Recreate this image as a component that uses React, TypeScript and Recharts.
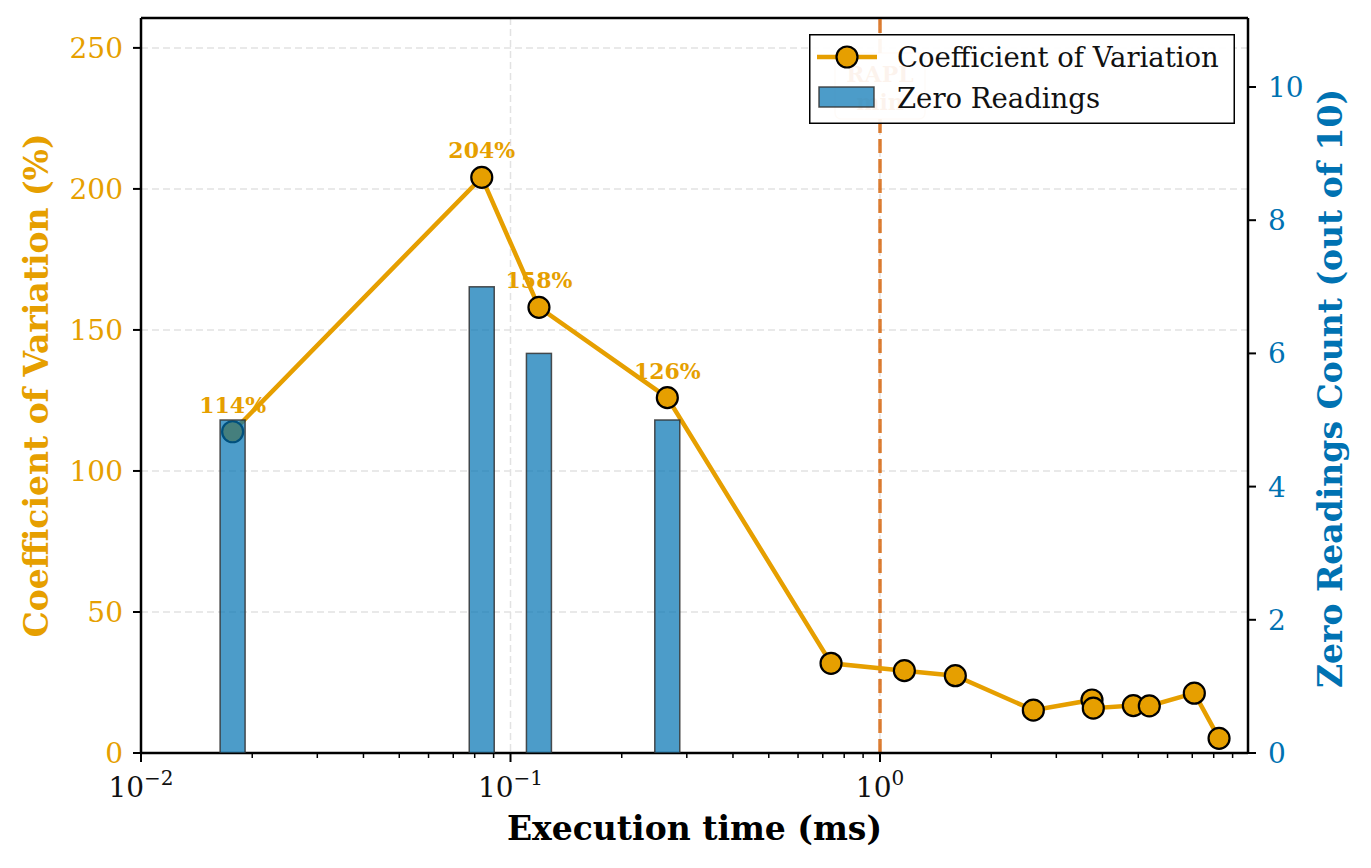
import {
  ComposedChart,
  Line,
  Bar,
  XAxis,
  YAxis,
  CartesianGrid,
  ReferenceLine,
  Legend,
  Label,
} from "recharts";

const FONT = '"DejaVu Serif", serif';
const ORANGE = "#E69F00";
const BLUE = "#0072B2";
const VERMILION = "#D55E00";

// execution time (ms) of each benchmark
const execTimeMs = [
  0.0177, 0.0836, 0.1194, 0.2657, 0.737, 1.164, 1.599, 2.6, 3.747, 3.778, 4.848, 5.356, 7.09, 8.271,
];
// coefficient of variation (%)
const cvPercent = [113.9, 204.1, 158.0, 126.0, 31.8, 29.2, 27.4, 15.2, 18.8, 15.9, 16.8, 16.7, 21.2, 5.2];
// zero readings out of 10 runs (only the shortest kernels have any)
const zeroReadings = [5, 7, 6, 5, null, null, null, null, null, null, null, null, null, null];

const xMajorTicks = [0.01, 0.1, 1];
const xMinorTicks = [
  0.02, 0.03, 0.04, 0.05, 0.06, 0.07, 0.08, 0.09,
  0.2, 0.3, 0.4, 0.5, 0.6, 0.7, 0.8, 0.9,
  2, 3, 4, 5, 6, 7, 8, 9,
];
const cvTicks = [0, 50, 100, 150, 200, 250];
const zeroTicks = [0, 2, 4, 6, 8, 10];
const raplLimitMs = 1;

const X_DOMAIN = [0.01, 9.906];
const CV_MAX = 260.6;
const ZERO_MAX = 11.036;
const BAR_W = 25;

const data = execTimeMs.map((t, i) => ({
  t,
  cv: cvPercent[i],
  zero: zeroReadings[i],
}));

function LogTick(props: any) {
  const { x, y, payload } = props;
  const v = payload.value;
  const major = xMajorTicks.includes(v);
  const exp = Math.round(Math.log10(v));
  return (
    <g>
      <line
        x1={x}
        x2={x}
        y1={y}
        y2={y + (major ? 9 : 5)}
        stroke="#000"
        strokeWidth={major ? 2 : 1.5}
      />
      {major && (
        <text x={x} y={y + 44} textAnchor="middle" fontSize={28} fontFamily={FONT} fill="#111">
          10
          <tspan dy={-12} fontSize={20}>
            {exp < 0 ? "\u2212" + -exp : String(exp)}
          </tspan>
        </text>
      )}
    </g>
  );
}

// bars on a log axis get a tiny band, so keep the centre and draw a fixed width
function WideBar(props: any) {
  const { x, y, width, height } = props;
  if (!height || height <= 0) return null;
  const cx = x + width / 2;
  return (
    <rect
      x={cx - BAR_W / 2}
      y={y}
      width={BAR_W}
      height={height}
      fill={BLUE}
      fillOpacity={0.7}
      stroke="#333"
      strokeOpacity={0.85}
      strokeWidth={1.5}
    />
  );
}

function renderCvLabel(props: any) {
  const { x, y, value } = props;
  if (value == null || value < 100) return null;
  return (
    <text
      x={x}
      y={y - 19}
      textAnchor="middle"
      fontSize={22}
      fontWeight="bold"
      fontFamily={FONT}
      fill={ORANGE}
    >
      {Math.round(value)}%
    </text>
  );
}

function RaplLabel(props: any) {
  const { viewBox } = props;
  const cx = viewBox.x;
  const top = viewBox.y;
  return (
    <g>
      <rect
        x={cx - 45}
        y={top + 35}
        width={90}
        height={66}
        rx={6}
        fill="#fff"
        stroke={VERMILION}
        strokeOpacity={0.4}
        strokeWidth={1.5}
      />
      <text x={cx} y={top + 64} textAnchor="middle" fontSize={22} fontWeight="bold" fontFamily={FONT} fill={VERMILION}>
        RAPL
      </text>
      <text x={cx} y={top + 92} textAnchor="middle" fontSize={22} fontWeight="bold" fontFamily={FONT} fill={VERMILION}>
        min
      </text>
    </g>
  );
}

function LegendBox() {
  const txt = { fontSize: 27.5, fontFamily: FONT, fill: "#111" };
  return (
    <svg width={426} height={90} style={{ display: "block", fontFamily: FONT }}>
      <rect x={0.75} y={0.75} width={424.5} height={88.5} fill="#fff" fillOpacity={0.93} stroke="#000" strokeWidth={1.5} />
      <line x1={8} x2={68} y1={23} y2={23} stroke={ORANGE} strokeWidth={4.5} />
      <circle cx={38} cy={23} r={10.5} fill={ORANGE} stroke="#000" strokeWidth={2.2} />
      <text x={88} y={23} dominantBaseline="central" {...txt} style={{ fontFamily: FONT }}>
        Coefficient of Variation
      </text>
      <rect x={10} y={53} width={55} height={20} fill={BLUE} fillOpacity={0.7} stroke="#333" strokeOpacity={0.85} strokeWidth={1.5} />
      <text x={88} y={64} dominantBaseline="central" {...txt} style={{ fontFamily: FONT }}>
        Zero Readings
      </text>
    </svg>
  );
}

export default function App() {
  return (
    <div style={{ position: "absolute", left: 0, top: 0, width: 1371, height: 868, background: "#fff" }}>
      <ComposedChart
        width={1371}
        height={868}
        data={data}
        margin={{ top: 18, right: 0, bottom: 0, left: 0 }}
      >
        <CartesianGrid
          yAxisId="left"
          stroke="#e2e2e2"
          strokeWidth={1.5}
          strokeDasharray="7 4"
          verticalValues={xMajorTicks}
        />
        <XAxis
          dataKey="t"
          type="number"
          scale="log"
          domain={X_DOMAIN}
          allowDataOverflow
          ticks={[...xMajorTicks, ...xMinorTicks]}
          interval={0}
          tickSize={0}
          tickMargin={0}
          tickLine={false}
          tick={<LogTick />}
          axisLine={{ stroke: "#000", strokeWidth: 2.5 }}
          height={115}
        >
          <Label
            content={(p: any) => {
              const vb = p.viewBox;
              return (
                <text
                  x={vb.x + vb.width / 2}
                  y={vb.y + 87}
                  textAnchor="middle"
                  fontSize={33}
                  fontWeight="bold"
                  fontFamily={FONT}
                  fill="#000"
                >
                  Execution time (ms)
                </text>
              );
            }}
          />
        </XAxis>
        <YAxis
          yAxisId="left"
          domain={[0, CV_MAX]}
          allowDataOverflow
          ticks={cvTicks}
          width={141}
          tickSize={8}
          tickMargin={10}
          tick={{ fill: ORANGE, fontSize: 28, fontFamily: FONT }}
          tickLine={{ stroke: "#000", strokeWidth: 2 }}
          axisLine={{ stroke: "#000", strokeWidth: 2.5 }}
        >
          <Label
            content={(p: any) => {
              const vb = p.viewBox;
              const cx = vb.x + 36;
              const cy = vb.y + vb.height / 2;
              return (
                <text
                  x={cx}
                  y={cy}
                  transform={`rotate(-90, ${cx}, ${cy})`}
                  textAnchor="middle"
                  dominantBaseline="central"
                  fontSize={33}
                  fontWeight="bold"
                  fontFamily={FONT}
                  fill={ORANGE}
                >
                  Coefficient of Variation (%)
                </text>
              );
            }}
          />
        </YAxis>
        <YAxis
          yAxisId="right"
          orientation="right"
          domain={[0, ZERO_MAX]}
          allowDataOverflow
          ticks={zeroTicks}
          width={123}
          tickSize={8}
          tickMargin={12}
          tick={{ fill: BLUE, fontSize: 28, fontFamily: FONT }}
          tickLine={{ stroke: "#000", strokeWidth: 2 }}
          axisLine={{ stroke: "#000", strokeWidth: 2.5 }}
        >
          <Label
            content={(p: any) => {
              const vb = p.viewBox;
              const cx = vb.x + 82;
              const cy = vb.y + vb.height / 2 + 3;
              return (
                <text
                  x={cx}
                  y={cy}
                  transform={`rotate(-90, ${cx}, ${cy})`}
                  textAnchor="middle"
                  dominantBaseline="central"
                  fontSize={33}
                  fontWeight="bold"
                  fontFamily={FONT}
                  fill={BLUE}
                >
                  Zero Readings Count (out of 10)
                </text>
              );
            }}
          />
        </YAxis>
        <ReferenceLine yAxisId="left" y={CV_MAX} stroke="#000" strokeWidth={2.5} />
        <ReferenceLine
          yAxisId="left"
          x={raplLimitMs}
          stroke={VERMILION}
          strokeOpacity={0.8}
          strokeWidth={3.5}
          strokeDasharray="14 6"
          label={<RaplLabel />}
        />
        <Line
          yAxisId="left"
          dataKey="cv"
          stroke="none"
          dot={false}
          activeDot={false}
          legendType="none"
          label={renderCvLabel}
          isAnimationActive={false}
        />
        <Line
          yAxisId="left"
          dataKey="cv"
          stroke={ORANGE}
          strokeWidth={4.5}
          dot={{ r: 10.5, fill: ORANGE, stroke: "#000", strokeWidth: 2.2 }}
          activeDot={false}
          isAnimationActive={false}
        />
        <Bar
          yAxisId="right"
          dataKey="zero"
          fill={BLUE}
          shape={<WideBar />}
          isAnimationActive={false}
          zIndex={1000}
        />
        <Legend
          layout="horizontal"
          verticalAlign="middle"
          align="center"
          content={<LegendBox />}
          wrapperStyle={{ top: 34, left: 809, right: "auto", bottom: "auto", width: 426, height: 90 }}
        />
      </ComposedChart>
    </div>
  );
}
